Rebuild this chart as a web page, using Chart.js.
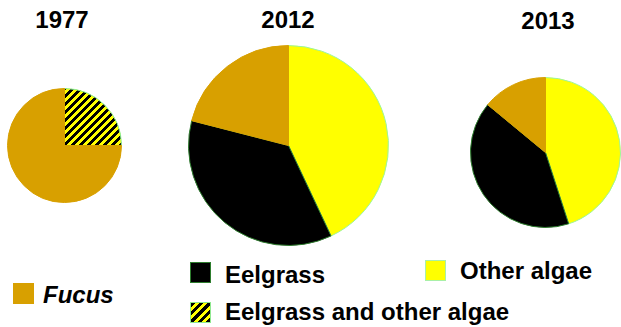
<!DOCTYPE html>
<html>
<head>
<meta charset="utf-8">
<script src="https://cdn.jsdelivr.net/npm/chart.js@4"></script>
<style>
  body { margin: 0; background: #fff; width: 621px; height: 327px; position: relative; overflow: hidden;
         font-family: "Liberation Sans", Arial, sans-serif; font-weight: bold; }
  .box { position: absolute; }
  .title { position: absolute; font-size: 24px; line-height: 24px; width: 100px; text-align: center; }
  .lbl { position: absolute; font-size: 24px; line-height: 24px; white-space: nowrap; }
  .sw { position: absolute; width: 21px; height: 21px; box-sizing: border-box; }
</style>
</head>
<body>
<div class="title" style="left:12px;top:8px">1977</div>
<div class="title" style="left:238px;top:8px">2012</div>
<div class="title" style="left:498px;top:9px">2013</div>

<div class="box" style="left:7px;top:88px"><canvas id="pie1977" width="115" height="115"></canvas></div>
<div class="box" style="left:188px;top:45px"><canvas id="pie2012" width="201" height="201"></canvas></div>
<div class="box" style="left:470px;top:77px"><canvas id="pie2013" width="151" height="151"></canvas></div>

<div class="sw" style="left:13px;top:283px;background:#D8A000"></div>
<div class="lbl" style="left:43px;top:283px;font-style:italic">Fucus</div>
<div class="sw" style="left:190px;top:262px;background:#000;border:1px solid #2E7D2E"></div>
<div class="lbl" style="left:225px;top:263px">Eelgrass</div>
<div class="sw" style="left:425px;top:260px;background:#FFFF00;border:1px solid #A8F0A8"></div>
<div class="lbl" style="left:460px;top:259px">Other algae</div>
<div class="sw" style="left:190px;top:302px;border:1px solid #90E890;background:repeating-linear-gradient(135deg,#000 0 3px,#FFFF00 3px 6px)"></div>
<div class="lbl" style="left:225px;top:300px">Eelgrass and other algae</div>

<script>
// shares of each cover type (%)
const categories = ['Other algae', 'Eelgrass', 'Eelgrass and other algae', 'Fucus'];
const values1977 = [0, 0, 25, 75];
const values2012 = [43, 36, 0, 21];
const values2013 = [45, 41, 0, 14];

// black / yellow "/" stripes
function hatchPattern() {
    const c = document.createElement('canvas');
    c.width = 8; c.height = 8;
    const g = c.getContext('2d');
    const img = g.createImageData(8, 8);
    for (let y = 0; y < 8; y++) {
        for (let x = 0; x < 8; x++) {
            const i = (y * 8 + x) * 4;
            const black = (x + y) % 8 < 4;
            img.data[i] = black ? 0 : 255;
            img.data[i + 1] = black ? 0 : 255;
            img.data[i + 2] = 0;
            img.data[i + 3] = 255;
        }
    }
    g.putImageData(img, 0, 0);
    return g.createPattern(c, 'repeat');
}

const hatch = hatchPattern();
const fills = ['#FFFF00', '#000000', hatch, '#D8A000'];
const borders = ['#9CF59C', '#2E7D2E', '#8CF08C', '#D8A000'];

function drawPie(id, values) {
    const keep = values.map((v, i) => i).filter(i => values[i] > 0);
    new Chart(document.getElementById(id), {
        type: 'pie',
        data: {
            labels: keep.map(i => categories[i]),
            datasets: [{
                data: keep.map(i => values[i]),
                backgroundColor: keep.map(i => fills[i]),
                borderColor: keep.map(i => borders[i]),
                borderWidth: 1
            }]
        },
        options: {
            responsive: false,
            animation: false,
            layout: { padding: 0 },
            plugins: {
                legend: { display: false },
                tooltip: { enabled: false }
            }
        }
    });
}

drawPie('pie1977', values1977);
drawPie('pie2012', values2012);
drawPie('pie2013', values2013);
</script>
</body>
</html>
